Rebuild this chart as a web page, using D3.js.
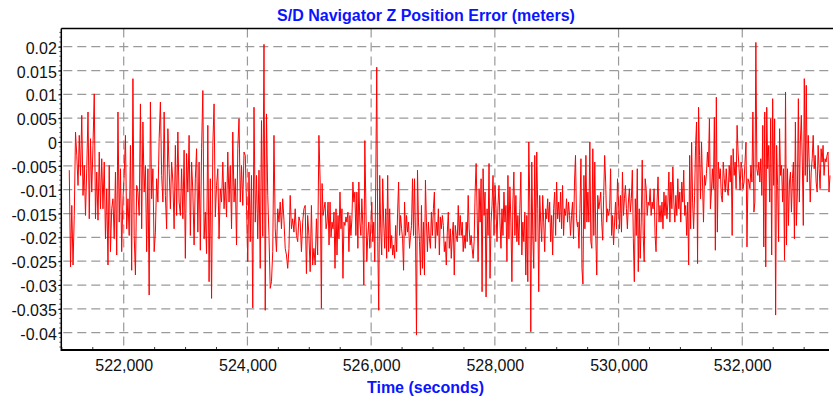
<!DOCTYPE html>
<html><head><meta charset="utf-8">
<script src="https://cdn.jsdelivr.net/npm/d3@7"></script>
<style>body{margin:0;background:#fff}svg{display:block}</style>
</head><body><svg id="c" width="833" height="400"></svg>
<script>
const chartTitle = "S/D Navigator Z Position Error (meters)";
const xTitle = "Time (seconds)";
const xTicks = [522000, 524000, 526000, 528000, 530000, 532000];
const yTicks = [0.02, 0.015, 0.01, 0.005, 0, -0.005, -0.01, -0.015, -0.02, -0.025, -0.03, -0.035, -0.04];
const yTickLabels = ["0.02","0.015","0.01","0.005","0","-0.005","-0.01","-0.015","-0.02","-0.025","-0.03","-0.035","-0.04"];
const xDomain = [520991, 533402];
const yDomain = [0.02, -0.04];

// sampled segments: [start time, end time] and read error values (m)
const segATime = [521120, 525196];
const segA = [-0.0059, -0.0262, -0.0133, -0.0258, -0.0154, 0.0021, -0.0028, -0.0091, 0.0014, -0.0070, 0.0056, -0.0112, -0.0049, -0.0154, -0.0056, 0.0063, -0.0161, 0.0007, -0.0105, -0.0007, 0.0101, -0.0161, -0.0063, -0.0164, -0.0021, -0.0140, -0.0035, -0.0140, -0.0042, -0.0203, -0.0098, -0.0258, -0.0049, -0.0230, -0.0140, -0.0119, -0.0203, -0.0063, -0.0237, 0.0063, -0.0168, -0.0056, -0.0230, -0.0119, -0.0070, 0.0014, -0.0182, -0.0119, -0.0196, -0.0007, -0.0269, 0.0133, -0.0196, -0.0279, -0.0091, -0.0105, -0.0154, 0.0080, -0.0182, 0.0042, -0.0105, -0.0049, -0.0230, -0.0056, -0.0321, 0.0084, -0.0119, -0.0056, -0.0230, -0.0189, -0.0077, -0.0126, 0.0007, 0.0084, -0.0070, -0.0126, 0.0063, -0.0112, -0.0182, 0.0028, -0.0056, -0.0140, -0.0042, -0.0084, -0.0182, -0.0007, -0.0154, 0.0021, -0.0126, -0.0154, -0.0056, -0.0161, -0.0017, -0.0244, -0.0024, -0.0105, 0.0014, -0.0196, -0.0042, -0.0105, -0.0216, -0.0077, -0.0014, -0.0189, -0.0042, -0.0227, -0.0014, 0.0108, -0.0203, -0.0147, -0.0234, 0.0035, -0.0293, -0.0077, -0.0328, -0.0007, 0.0080, -0.0157, -0.0091, -0.0056, -0.0203, -0.0098, -0.0126, -0.0042, -0.0140, -0.0084, -0.0157, -0.0021, -0.0126, -0.0049, -0.0182, 0.0021, -0.0126, -0.0077, -0.0216, -0.0014, 0.0049, -0.0126, -0.0049, -0.0133, -0.0021, -0.0028, -0.0133, -0.0251, -0.0063, -0.0209, -0.0070, -0.0348, 0.0073, -0.0168, -0.0070, -0.0203, -0.0059, -0.0265, 0.0045, -0.0198, 0.0205, -0.0353, 0.0059, -0.0112, -0.0196, -0.0307, -0.0293, -0.0230, 0.0014, -0.0182, -0.0230, -0.0140, -0.0168, -0.0126, -0.0182, -0.0119, -0.0164, -0.0223, -0.0237, -0.0265, -0.0223, -0.0112, -0.0182, -0.0161, -0.0189, -0.0140, -0.0196, -0.0209, -0.0157, -0.0168, -0.0230, -0.0168, -0.0140, -0.0133, -0.0276, -0.0154, -0.0196, -0.0272, -0.0133, -0.0258, -0.0223, -0.0258, -0.0161, -0.0237, 0.0014, -0.0084, -0.0349];

const segBTime = [525207, 529336];
const segB = [-0.0087, -0.0154, -0.0140, -0.0126, -0.0182, -0.0168, -0.0126, -0.0216, -0.0126, -0.0199, -0.0168, -0.0182, -0.0147, -0.0265, -0.0140, -0.0237, -0.0154, -0.0203, -0.0105, -0.0182, -0.0140, -0.0286, -0.0168, -0.0175, -0.0157, -0.0168, -0.0147, -0.0230, -0.0154, -0.0196, -0.0161, -0.0084, -0.0126, -0.0105, -0.0196, -0.0105, -0.0223, -0.0084, -0.0168, -0.0196, -0.0119, -0.0175, -0.0300, 0.0003, -0.0126, -0.0251, -0.0196, -0.0168, -0.0223, -0.0182, -0.0126, -0.0209, -0.0168, -0.0251, -0.0084, 0.0157, -0.0209, -0.0353, -0.0070, -0.0182, -0.0237, -0.0077, -0.0168, -0.0223, -0.0140, -0.0244, -0.0070, -0.0230, -0.0140, -0.0223, -0.0196, -0.0237, -0.0216, -0.0244, -0.0175, -0.0230, -0.0147, -0.0084, -0.0196, -0.0154, -0.0182, -0.0203, -0.0269, -0.0126, -0.0196, -0.0154, -0.0189, -0.0168, -0.0223, -0.0196, -0.0175, -0.0077, -0.0196, -0.0077, -0.0196, -0.0405, -0.0059, -0.0168, -0.0209, -0.0279, -0.0133, -0.0265, -0.0168, -0.0279, -0.0080, -0.0168, -0.0230, -0.0168, -0.0203, -0.0223, -0.0147, -0.0196, -0.0140, -0.0105, -0.0223, -0.0168, -0.0196, -0.0140, -0.0237, -0.0157, -0.0182, -0.0154, -0.0175, -0.0230, -0.0209, -0.0258, -0.0189, -0.0147, -0.0223, -0.0182, -0.0244, -0.0196, -0.0168, -0.0279, -0.0175, -0.0196, -0.0209, -0.0133, -0.0196, -0.0154, -0.0196, -0.0168, -0.0230, -0.0196, -0.0223, -0.0168, -0.0209, -0.0112, -0.0182, -0.0216, -0.0196, -0.0223, -0.0244, -0.0209, -0.0105, -0.0045, -0.0147, -0.0251, -0.0098, -0.0168, -0.0077, -0.0314, -0.0056, -0.0154, -0.0105, -0.0325, -0.0140, -0.0196, -0.0045, -0.0286, -0.0168, -0.0133, -0.0070, -0.0196, -0.0091, -0.0140, -0.0209, -0.0133, -0.0091, -0.0168, -0.0223, -0.0140, -0.0196, -0.0105, -0.0168, -0.0133, -0.0251, -0.0070, -0.0203, -0.0094, -0.0168, -0.0293, -0.0126, -0.0063, -0.0196, -0.0112, -0.0209, -0.0154, -0.0216, -0.0140, -0.0063, -0.0237, -0.0168, -0.0209, -0.0147, -0.0279, -0.0154, -0.0293, 0.0000, -0.0126, -0.0398, -0.0042, -0.0196, -0.0265, -0.0028, -0.0209, -0.0021, -0.0140, -0.0314, -0.0112, -0.0168, -0.0209, -0.0112, -0.0168, -0.0230, -0.0140, -0.0161, -0.0119, -0.0168, -0.0126, -0.0209, -0.0154, -0.0237, -0.0140, -0.0105, -0.0196, -0.0084, -0.0161, -0.0126, -0.0168, -0.0105, -0.0182, -0.0091, -0.0196, -0.0140, -0.0154, -0.0119, -0.0168, -0.0126, -0.0154, -0.0196, -0.0154, -0.0126, -0.0203, -0.0084, -0.0028, -0.0161, -0.0178];

const segCTime = [529344, 533418];
const segC = [-0.0168, -0.0223, -0.0140, -0.0035, -0.0265, -0.0298, -0.0070, -0.0182, -0.0028, -0.0168, -0.0105, -0.0168, 0.0000, -0.0209, -0.0223, -0.0014, -0.0196, -0.0042, -0.0196, -0.0279, -0.0112, -0.0140, -0.0126, -0.0105, -0.0168, -0.0206, -0.0112, -0.0028, -0.0084, -0.0168, -0.0140, -0.0154, -0.0140, -0.0056, -0.0196, -0.0154, -0.0216, -0.0168, -0.0126, -0.0182, -0.0077, -0.0126, -0.0182, -0.0112, -0.0189, -0.0063, -0.0154, -0.0119, -0.0091, -0.0140, -0.0182, -0.0126, -0.0098, -0.0147, -0.0119, -0.0059, -0.0203, -0.0293, -0.0119, -0.0196, -0.0056, -0.0272, -0.0140, -0.0244, -0.0168, -0.0038, -0.0196, -0.0251, -0.0077, -0.0098, -0.0154, -0.0126, -0.0133, -0.0098, -0.0154, -0.0126, -0.0140, -0.0098, -0.0196, -0.0230, -0.0126, -0.0073, -0.0168, -0.0133, -0.0168, -0.0126, -0.0182, -0.0105, -0.0154, -0.0112, -0.0161, -0.0126, -0.0063, -0.0168, -0.0084, -0.0140, -0.0052, -0.0126, -0.0168, -0.0112, -0.0154, -0.0077, -0.0140, -0.0105, -0.0168, -0.0084, -0.0126, -0.0059, -0.0154, -0.0133, -0.0196, -0.0126, -0.0258, -0.0028, -0.0182, 0.0000, -0.0126, -0.0182, -0.0112, -0.0007, 0.0042, -0.0255, 0.0073, -0.0028, -0.0119, 0.0000, -0.0084, -0.0168, -0.0070, -0.0091, -0.0066, -0.0021, -0.0052, 0.0049, -0.0140, -0.0105, -0.0056, -0.0098, 0.0052, -0.0227, 0.0094, -0.0189, -0.0042, -0.0077, -0.0056, -0.0112, -0.0126, -0.0042, -0.0077, -0.0105, -0.0056, -0.0098, -0.0112, -0.0049, -0.0084, -0.0028, -0.0196, -0.0014, -0.0070, -0.0042, -0.0098, 0.0035, -0.0021, -0.0056, -0.0101, -0.0042, -0.0056, -0.0098, -0.0084, -0.0042, 0.0000, -0.0220, -0.0077, -0.0084, -0.0098, -0.0049, -0.0084, 0.0063, -0.0147, -0.0126, 0.0209, -0.0056, -0.0070, -0.0042, -0.0084, -0.0035, -0.0112, 0.0035, -0.0220, 0.0063, -0.0262, 0.0073, -0.0056, -0.0007, -0.0126, 0.0049, -0.0237, 0.0091, -0.0091, 0.0049, -0.0363, -0.0007, -0.0091, -0.0209, 0.0028, -0.0070, -0.0049, -0.0126, -0.0056, -0.0248, 0.0105, -0.0216, -0.0056, -0.0175, -0.0084, -0.0063, -0.0147, -0.0077, -0.0042, -0.0203, 0.0042, -0.0175, -0.0105, 0.0091, -0.0126, 0.0000, 0.0056, -0.0042, -0.0175, 0.0133, -0.0070, 0.0119, -0.0084, 0.0014, -0.0042, -0.0126, -0.0063, -0.0035, 0.0014, -0.0056, -0.0028, -0.0084, -0.0105, -0.0007, -0.0056, -0.0098, -0.0014, -0.0042, -0.0007, -0.0070, -0.0035, -0.0042, -0.0028, -0.0021, -0.0105, -0.0070];

const segments = [[segATime, segA], [segBTime, segB], [segCTime, segC]];
const points = [];
segments.forEach(([tr, vals]) => {
  const step = (tr[1] - tr[0]) / (vals.length - 1);
  vals.forEach((v, i) => points.push([tr[0] + i * step, v]));
});

const svg = d3.select("#c");
const L = 61.3, R = 829, T = 28.5, B = 350;
const x = d3.scaleLinear().domain(xDomain).range([L, R]);
const y = d3.scaleLinear().domain(yDomain).range([46.7, 332.7]);
const font = "'Liberation Sans', Arial, Helvetica, sans-serif";

svg.append("rect").attr("width", 833).attr("height", 400).attr("fill", "#fff");

// grid
const grid = svg.append("g").attr("stroke", "#9a9a9a").attr("stroke-width", 1.2).attr("stroke-dasharray", "9,5");
grid.selectAll(".h").data(yTicks).join("line")
  .attr("x1", L + 2).attr("x2", 833).attr("y1", d => y(d)).attr("y2", d => y(d));
grid.selectAll(".v").data(xTicks).join("line")
  .attr("y1", T).attr("y2", B).attr("x1", d => x(d)).attr("x2", d => x(d));

// data line
svg.append("clipPath").attr("id", "clip").append("rect")
  .attr("x", L).attr("y", T).attr("width", 833 - L).attr("height", B - T);
svg.append("path").datum(points)
  .attr("clip-path", "url(#clip)")
  .attr("fill", "none").attr("stroke", "#ff0000").attr("stroke-width", 1)
  .attr("stroke-linejoin", "miter")
  .attr("d", d3.line().x(d => x(d[0])).y(d => y(d[1])));

// y axis
const yMinor = d3.range(-43, 24).map(k => k / 1000);
svg.append("g").selectAll("line").data(yMinor).join("line")
  .attr("x1", L - 2).attr("x2", L).attr("y1", d => y(d)).attr("y2", d => y(d))
  .attr("stroke", "#333").attr("stroke-width", 0.8);
const yAxis = svg.append("g").attr("transform", `translate(${L},0)`)
  .call(d3.axisLeft(y).tickValues(yTicks).tickSize(3).tickPadding(1.5)
    .tickFormat((d, i) => yTickLabels[i]));
yAxis.select(".domain").remove();
yAxis.selectAll("line").attr("stroke", "#000");
yAxis.selectAll("text").attr("font-family", font).attr("font-size", 16).attr("fill", "#111").attr("dy", 6.6);

// x axis
const xMinor = d3.range(521000, 533500, 500).filter(d => d % 2000 !== 0);
svg.append("g").selectAll("line").data(xMinor).join("line")
  .attr("x1", d => x(d)).attr("x2", d => x(d)).attr("y1", B).attr("y2", B - 3)
  .attr("stroke", "#333").attr("stroke-width", 1);
const xAxis = svg.append("g").attr("transform", `translate(0,${B})`)
  .call(d3.axisBottom(x).tickValues(xTicks).tickSize(0).tickFormat(d3.format(",")));
xAxis.select(".domain").remove();
xAxis.selectAll("text").attr("font-family", font).attr("font-size", 16).attr("fill", "#111")
  .attr("y", 20.5).attr("dy", 0);

// frame lines
svg.append("line").attr("x1", L).attr("x2", L).attr("y1", T).attr("y2", B + 1).attr("stroke", "#000").attr("stroke-width", 1.5);
svg.append("line").attr("x1", L).attr("x2", 833).attr("y1", T).attr("y2", T).attr("stroke", "#000").attr("stroke-width", 1.5);
svg.append("line").attr("x1", L).attr("x2", R).attr("y1", B).attr("y2", B).attr("stroke", "#000").attr("stroke-width", 2);

// titles
svg.append("text").attr("x", 426).attr("y", 21).attr("text-anchor", "middle")
  .attr("font-family", font).attr("font-size", 16).attr("font-weight", "bold").attr("fill", "#0a14ff")
  .text(chartTitle);
svg.append("text").attr("x", 425.5).attr("y", 393).attr("text-anchor", "middle")
  .attr("font-family", font).attr("font-size", 16).attr("font-weight", "bold").attr("fill", "#0a14ff")
  .text(xTitle);
</script></body></html>
